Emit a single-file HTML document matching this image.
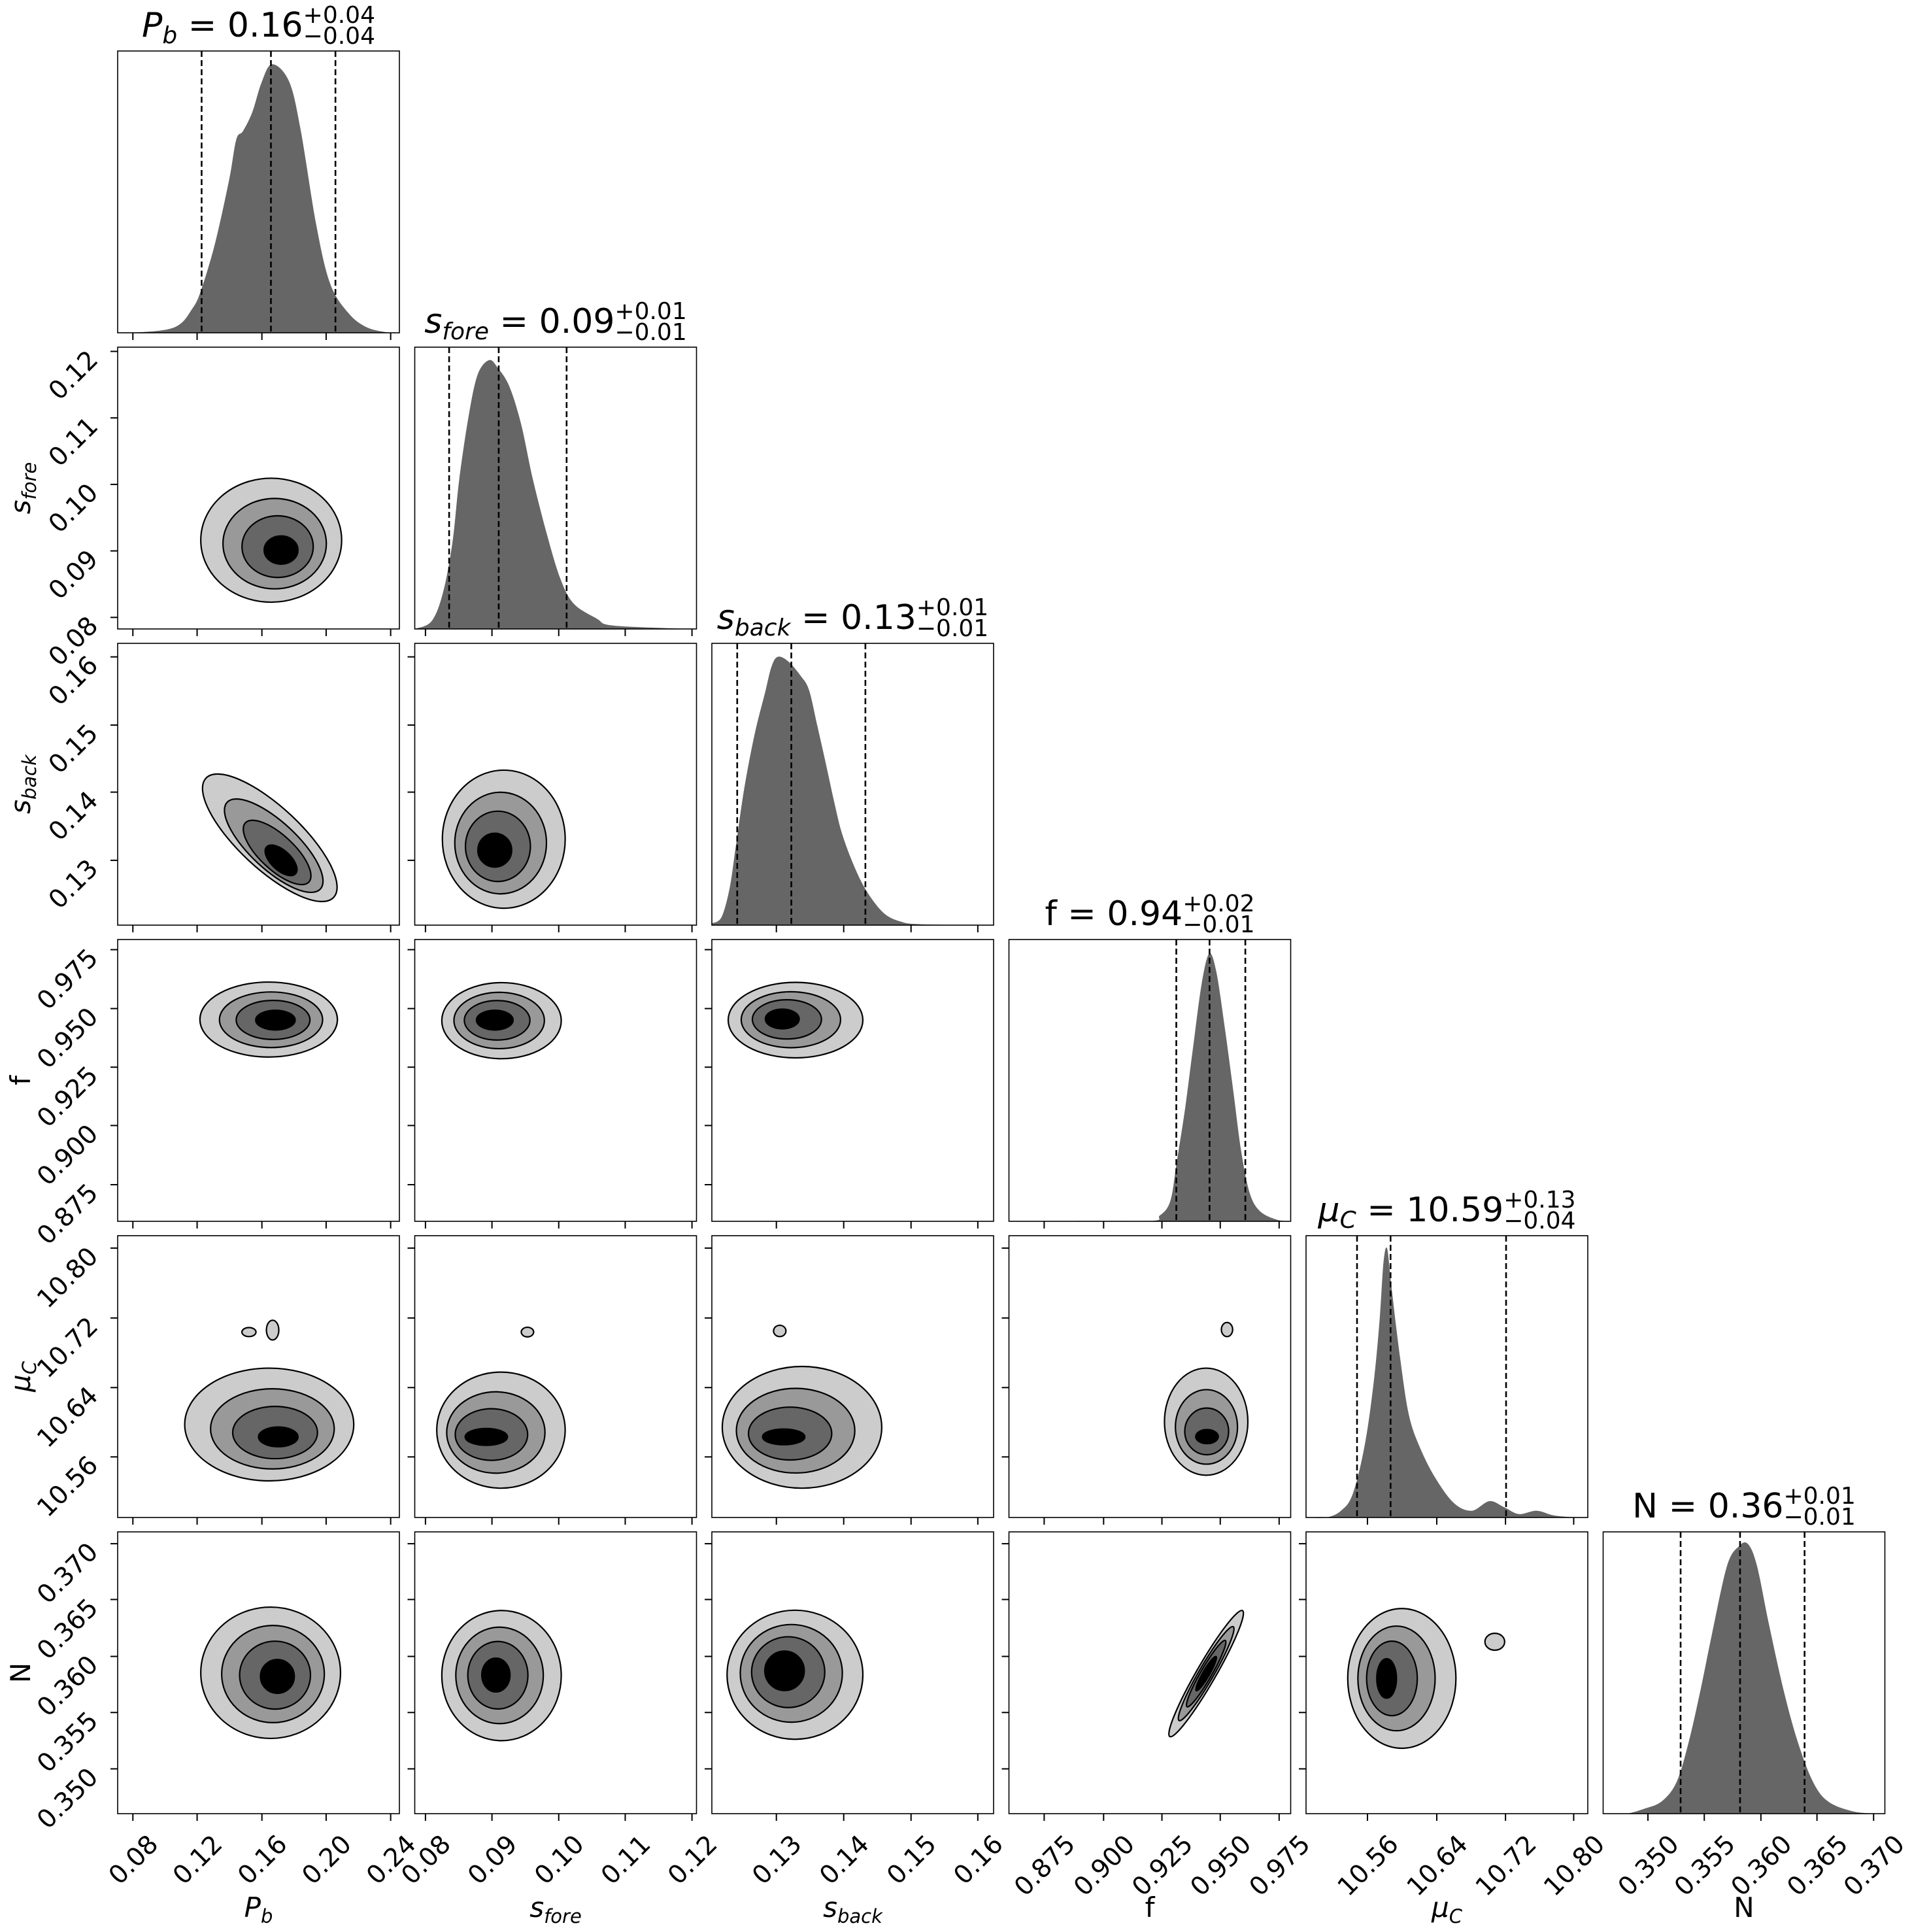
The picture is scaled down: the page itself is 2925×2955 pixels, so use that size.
<!DOCTYPE html>
<html><head><meta charset="utf-8"><style>
html,body{margin:0;padding:0;background:#fff;}
svg{display:block;}
text{font-family:"DejaVu Sans","Liberation Sans",sans-serif;fill:#000;}
</style></head><body>
<svg id="s" xmlns="http://www.w3.org/2000/svg" width="2925" height="2955" viewBox="0 0 2925 2955"></svg>
<script>
const S=document.getElementById('s');
const L0=180,T0=78,SX=454.5,SY=453,W=431;
const NS='http://www.w3.org/2000/svg';
let out='';
function X(i){return L0+SX*i;} function Y(j){return T0+SY*j;}
function smooth(p){let d='M'+p[0][0]+','+p[0][1];for(let i=0;i<p.length-1;i++){const p0=p[Math.max(0,i-1)],p1=p[i],p2=p[i+1],p3=p[Math.min(p.length-1,i+2)];
const c1=[p1[0]+(p2[0]-p0[0])/6,p1[1]+(p2[1]-p0[1])/6],c2=[p2[0]-(p3[0]-p1[0])/6,p2[1]-(p3[1]-p1[1])/6];
d+=`C${c1[0].toFixed(1)},${c1[1].toFixed(1)} ${c2[0].toFixed(1)},${c2[1].toFixed(1)} ${p2[0].toFixed(1)},${p2[1].toFixed(1)}`;}return d;}
const H=[
{p:[[0,0],[.054,0],[.201,.019],[.266,.087],[.299,.16],[.347,.323],[.396,.545],[.421,.686],[.445,.716],[.478,.783],[.510,.886],[.548,.953],[.608,.893],[.649,.723],[.705,.382],[.754,.175],[.819,.07],[.885,.019],[.966,0],[1,0]],q:[.298,.544,.773]},
{p:[[0,0],[.06,.028],[.101,.132],[.134,.309],[.158,.532],[.191,.754],[.223,.902],[.264,.954],[.296,.925],[.337,.858],[.378,.725],[.419,.532],[.468,.34],[.517,.178],[.565,.089],[.647,.036],[.696,.013],[.891,.003],[1,0]],q:[.122,.298,.539]},
{p:[[0,.006],[.034,.028],[.063,.131],[.085,.279],[.115,.486],[.152,.678],[.189,.826],[.211,.915],[.233,.952],[.270,.937],[.315,.885],[.345,.834],[.374,.709],[.404,.576],[.433,.443],[.462,.325],[.506,.207],[.551,.118],[.610,.043],[.669,.013],[.743,.003],[1,0]],q:[.09,.282,.545]},
{p:[[0,0],[.477,0],[.536,.021],[.573,.073],[.595,.206],[.625,.399],[.654,.621],[.684,.843],[.711,.95],[.736,.886],[.765,.695],[.795,.473],[.824,.251],[.854,.102],[.891,.036],[.95,.006],[1,0]],q:[.594,.712,.839]},
{p:[[0,0],[.071,0],[.124,.024],[.166,.084],[.208,.255],[.24,.478],[.261,.7],[.275,.906],[.288,.954],[.303,.82],[.334,.565],[.366,.36],[.408,.24],[.461,.137],[.525,.051],[.588,.024],[.651,.058],[.704,.036],[.756,.012],[.819,.024],[.882,.007],[.966,0],[1,0]],q:[.181,.3,.71]},
{p:[[0,0],[.08,0],[.144,.017],[.207,.043],[.26,.111],[.302,.248],[.345,.436],[.387,.641],[.44,.88],[.482,.949],[.514,.957],[.546,.88],[.588,.675],[.641,.436],[.693,.248],[.746,.111],[.799,.043],[.883,.009],[.966,0],[1,0]],q:[.275,.486,.715]}];
const C={
'1,0':{o:[.545,.685,.25,.22,0],c:[.58,.72,.06,.05]},
'2,0':{o:[.54,.69,.31,.11,43],c:[.58,.77,.07,.035]},
'2,1':{o:[.316,.695,.218,.245,0],c:[.284,.734,.06,.06]},
'3,0':{o:[.536,.284,.244,.133,0],c:[.56,.286,.07,.035]},
'3,1':{o:[.308,.288,.212,.135,0],c:[.284,.286,.065,.035]},
'3,2':{o:[.297,.286,.239,.134,0],c:[.25,.282,.06,.035]},
'4,0':{o:[.538,.67,.30,.2,0],c:[.57,.714,.07,.035],i:[[.466,.342,.025,.016],[.55,.335,.022,.035]]},
'4,1':{o:[.306,.69,.228,.206,0],c:[.254,.714,.075,.03],i:[[.40,.342,.022,.017]]},
'4,2':{o:[.32,.68,.283,.216,0],c:[.255,.714,.075,.028],i:[[.241,.338,.022,.02]]},
'4,3':{o:[.70,.66,.148,.19,0],c:[.703,.713,.04,.025],i:[[.774,.333,.02,.025]]},
'5,0':{o:[.543,.5,.248,.233,0],c:[.567,.513,.06,.06]},
'5,1':{o:[.308,.51,.212,.231,0],c:[.288,.508,.05,.06]},
'5,2':{o:[.295,.507,.241,.229,0],c:[.258,.493,.07,.07]},
'5,3':{o:[.70,.503,.258,.034,-60],c:[.70,.503,.07,.012]},
'5,4':{o:[.34,.52,.192,.248,0],c:[.286,.52,.035,.07],i:[[.67,.39,.035,.03]]}};
const XT=[[.054,.282,.512,.740,.969],[.038,.274,.511,.747,.984],[.229,.468,.707,.944],[.125,.336,.543,.750,.959],[.218,.464,.708,.950],[.159,.359,.560,.759,.960]];
const XL=[["0.08","0.12","0.16","0.20","0.24"],["0.08","0.09","0.10","0.11","0.12"],["0.13","0.14","0.15","0.16"],["0.875","0.900","0.925","0.950","0.975"],["10.56","10.64","10.72","10.80"],["0.350","0.355","0.360","0.365","0.370"]];
const YT=[null,[.015,.251,.487,.723,.959],[.048,.29,.528,.77],[.036,.245,.453,.66,.87],[.044,.292,.539,.785],[.042,.24,.442,.641,.841]];
const YL=[null,["0.12","0.11","0.10","0.09","0.08"],["0.16","0.15","0.14","0.13"],["0.975","0.950","0.925","0.900","0.875"],["10.80","10.72","10.64","10.56"],["0.370","0.365","0.360","0.355","0.350"]];
const fs=39;
function tw(s){let w=0;for(const ch of s)w+=(ch=='.'?.318:.636);return w*fs;}
const fills=['#cccccc','#999999','#666666','#000000'],ts=[0,.35,.65,1];
function interp(p,q){for(let k=0;k<p.length-1;k++){if(q>=p[k][0]&&q<=p[k+1][0]){const t=(q-p[k][0])/(p[k+1][0]-p[k][0]);return p[k][1]+t*(p[k+1][1]-p[k][1]);}}return 0;}
for(let j=0;j<6;j++)for(let i=0;i<=j;i++){
 const x0=X(i),y0=Y(j);
 if(i==j){
  const h=H[i];const pts=h.p.map(p=>[x0+p[0]*W,y0+W-p[1]*W]);
  out+=`<path d="${smooth(pts)} L${x0+W},${y0+W} L${x0},${y0+W} Z" fill="#666666"/>`;
  for(const q of h.q){const xx=x0+q*W;out+=`<line x1="${xx}" y1="${y0}" x2="${xx}" y2="${y0+W}" stroke="#000" stroke-width="2.6" stroke-dasharray="9,5"/>`;}
 } else {
  const c=C[j+','+i];
  for(let k=0;k<4;k++){const t=ts[k];const o=c.o,cc=c.c;
   const cx=x0+W*(o[0]+(cc[0]-o[0])*t),cy=y0+W*(o[1]+(cc[1]-o[1])*t),rx=W*(o[2]+(cc[2]-o[2])*t),ry=W*(o[3]+(cc[3]-o[3])*t);
   out+=`<ellipse cx="${cx}" cy="${cy}" rx="${rx}" ry="${ry}" transform="rotate(${o[4]} ${cx} ${cy})" fill="${fills[k]}" stroke="#000" stroke-width="2.2"/>`;}
  if(c.i)for(const e of c.i)out+=`<ellipse cx="${x0+W*e[0]}" cy="${y0+W*e[1]}" rx="${W*e[2]}" ry="${W*e[3]}" fill="#cccccc" stroke="#000" stroke-width="2.2"/>`;
 }
 out+=`<rect x="${x0}" y="${y0}" width="${W}" height="${W}" fill="none" stroke="#000" stroke-width="1.6"/>`;
 XT[i].forEach((f,k)=>{const xx=x0+f*W;out+=`<line x1="${xx}" y1="${y0+W}" x2="${xx}" y2="${y0+W+11}" stroke="#000" stroke-width="2"/>`;
  if(j==5){const s=XL[i][k];const L=tw(s);const cap=.73*fs;const bx=xx+.354*(L+cap),by=y0+W+29+.707*cap;out+=`<text x="${bx}" y="${by}" font-size="${fs}" text-anchor="end" transform="rotate(-45 ${bx} ${by})">${s}</text>`;}});
 if(i!=j){YT[j].forEach((f,k)=>{const yy=y0+f*W;out+=`<line x1="${x0-11}" y1="${yy}" x2="${x0}" y2="${yy}" stroke="#000" stroke-width="2"/>`;
  if(i==0){const s=YL[j][k];const bx=x0-28,by=yy+15;out+=`<text x="${bx}" y="${by}" font-size="${fs}" text-anchor="end" transform="rotate(-45 ${bx} ${by})">${s}</text>`;}});}
}
const xlab=['<tspan font-style="italic">P</tspan><tspan font-style="italic" font-size="29" dy="9">b</tspan>',
'<tspan font-style="italic">s</tspan><tspan font-style="italic" font-size="29" dy="9">fore</tspan>',
'<tspan font-style="italic">s</tspan><tspan font-style="italic" font-size="29" dy="9">back</tspan>',
'f','<tspan font-style="italic">μ</tspan><tspan font-style="italic" font-size="29" dy="9">C</tspan>','N'];
for(let i=0;i<6;i++){out+=`<text x="${X(i)+W/2}" y="2932" font-size="42" text-anchor="middle">${xlab[i]}</text>`;}
for(let j=1;j<6;j++){const cy=Y(j)+W/2;out+=`<text x="46" y="${cy}" font-size="42" text-anchor="middle" transform="rotate(-90 46 ${cy})">${xlab[j]}</text>`;}
const tt=[['<tspan font-style="italic">P</tspan><tspan font-style="italic" font-size="36" dy="10">b</tspan><tspan dy="-10"> = 0.16</tspan>','+0.04','−0.04'],
['<tspan font-style="italic">s</tspan><tspan font-style="italic" font-size="36" dy="10">fore</tspan><tspan dy="-10"> = 0.09</tspan>','+0.01','−0.01'],
['<tspan font-style="italic">s</tspan><tspan font-style="italic" font-size="36" dy="10">back</tspan><tspan dy="-10"> = 0.13</tspan>','+0.01','−0.01'],
['f = 0.94','+0.02','−0.01'],
['<tspan font-style="italic">μ</tspan><tspan font-style="italic" font-size="36" dy="10">C</tspan><tspan dy="-10"> = 10.59</tspan>','+0.13','−0.04'],
['N = 0.36','+0.01','−0.01']];
S.innerHTML=out;
for(let i=0;i<6;i++){
 const cx=X(i)+W/2,by=Y(i)-22;
 const m=document.createElementNS(NS,'text');m.setAttribute('font-size','52');m.setAttribute('y',by);m.setAttribute('x',0);m.innerHTML=tt[i][0];S.appendChild(m);
 const a=document.createElementNS(NS,'text');a.setAttribute('font-size','36');a.setAttribute('y',by-21);a.textContent=tt[i][1];S.appendChild(a);
 const b=document.createElementNS(NS,'text');b.setAttribute('font-size','36');b.setAttribute('y',by+11);b.textContent=tt[i][2];S.appendChild(b);
 let mw,sw;try{mw=m.getComputedTextLength();sw=Math.max(a.getComputedTextLength(),b.getComputedTextLength());}catch(e){mw=260;sw=100;}
 const x0=cx-(mw+sw)/2;m.setAttribute('x',x0);a.setAttribute('x',x0+mw);b.setAttribute('x',x0+mw);
}
</script>
</body></html>
